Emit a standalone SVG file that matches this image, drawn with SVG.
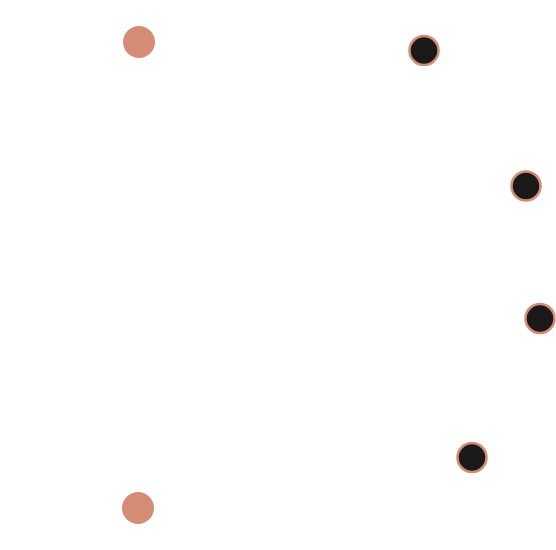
<svg xmlns="http://www.w3.org/2000/svg" width="556" height="550" viewBox="0 0 556 550">
<style>
.a{fill:#d58c74}
.b{fill:#1a1a1a;stroke:#d58c74;stroke-width:2.5}
</style>
<rect width="556" height="550" fill="#fff"/>
<g id="connectors"></g>
<g id="n1"><circle class="a" cx="139" cy="42" r="16"/></g>
<g id="n2"><circle class="a" cx="138" cy="508" r="16"/></g>
<g id="n3"><circle class="b" cx="424" cy="50.5" r="14.5"/></g>
<g id="n4"><circle class="b" cx="526" cy="186" r="14.5"/></g>
<g id="n5"><circle class="b" cx="540" cy="318.5" r="14.5"/></g>
<g id="n6"><circle class="b" cx="472" cy="457.5" r="14.5"/></g>
</svg>
